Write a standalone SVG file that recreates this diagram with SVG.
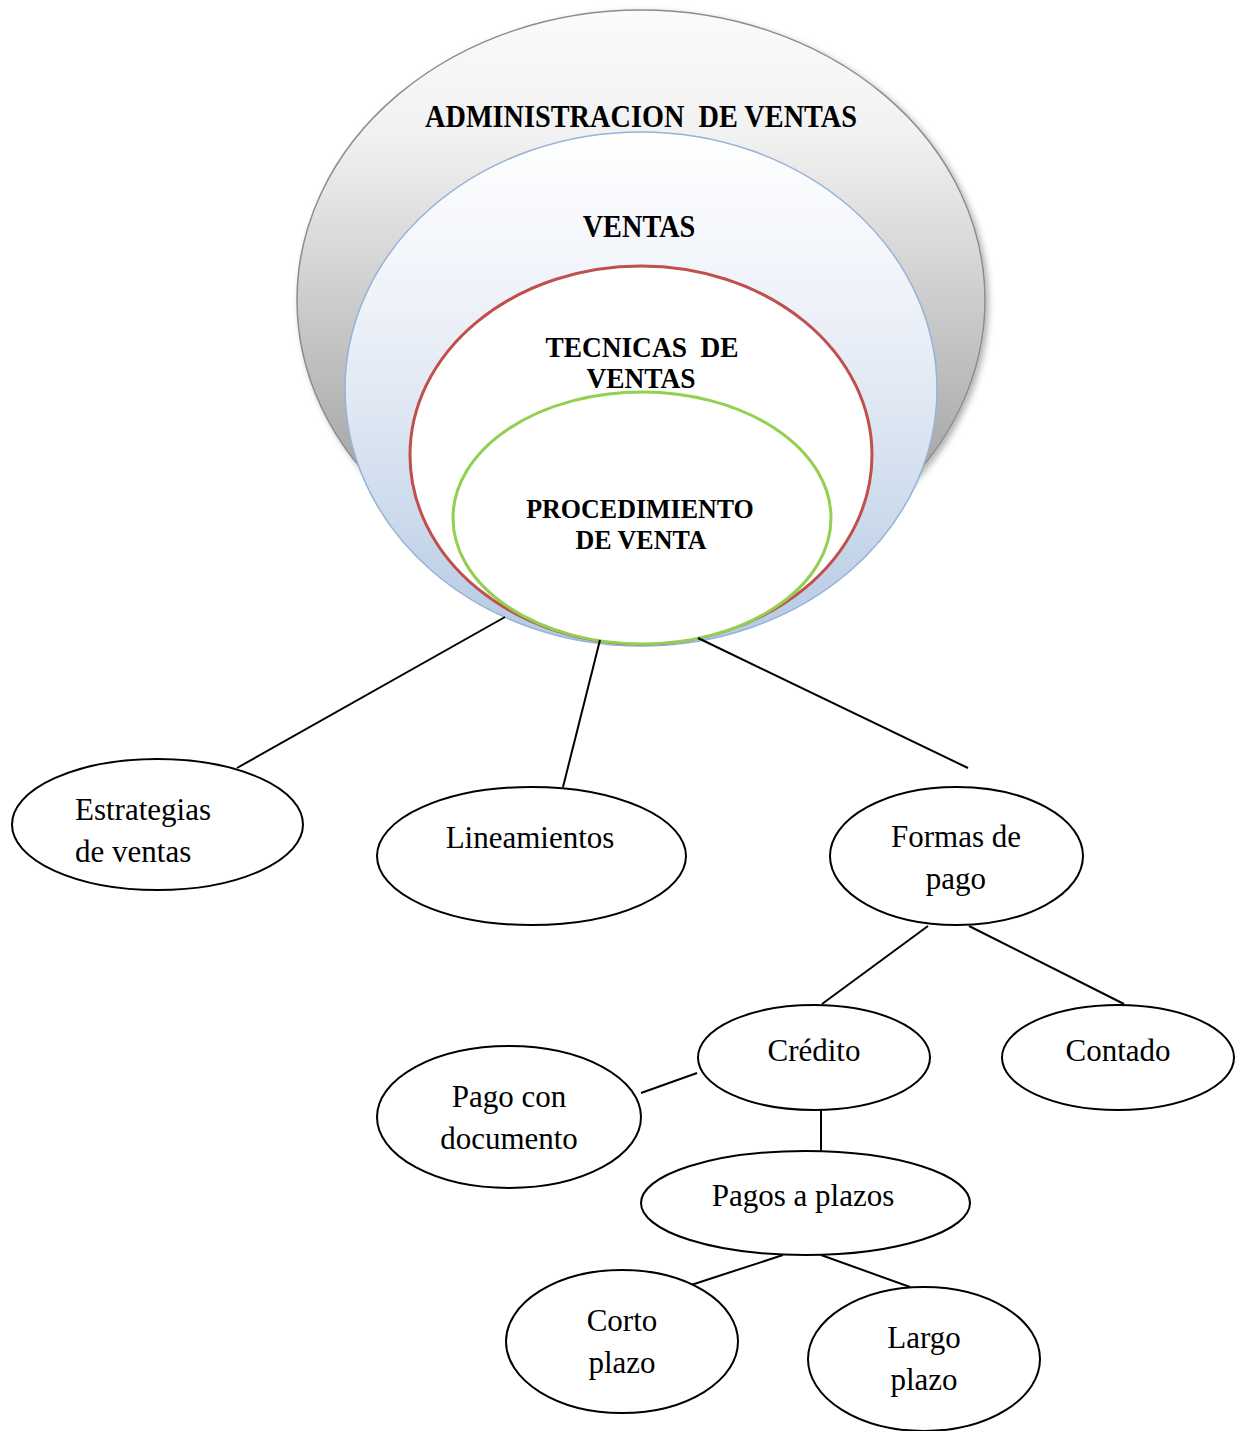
<svg xmlns="http://www.w3.org/2000/svg" width="1236" height="1431" viewBox="0 0 1236 1431">
  <style>
    .title { font-family: "Liberation Serif", "Times New Roman", serif; font-weight: bold; font-size: 28.3px; fill: #000; text-anchor: middle; white-space: pre; }
    .t2 { font-size: 27.4px; }
    .t3 { font-size: 26px; }
    .node ellipse { fill: #fff; stroke: #000; stroke-width: 2; }
    .node text { font-family: "Liberation Serif", "Times New Roman", serif; font-size: 31px; fill: #000; }
    .mid { text-anchor: middle; }
    #connectors line { stroke: #000; stroke-width: 2; }
  </style>
  <defs>
    <linearGradient id="grayFill" x1="0" y1="0" x2="0" y2="1">
      <stop offset="0" stop-color="#fbfbfb"/>
      <stop offset="0.22" stop-color="#f1f1f1"/>
      <stop offset="0.5" stop-color="#cdcdcd"/>
      <stop offset="0.75" stop-color="#adadad"/>
      <stop offset="1" stop-color="#8e8e8e"/>
    </linearGradient>
    <linearGradient id="blueFill" x1="0" y1="0" x2="0" y2="1">
      <stop offset="0" stop-color="#ffffff"/>
      <stop offset="0.33" stop-color="#eef2f9"/>
      <stop offset="0.6" stop-color="#dae4f1"/>
      <stop offset="0.81" stop-color="#c6d6ea"/>
      <stop offset="1" stop-color="#b4c8e2"/>
    </linearGradient>
    <filter id="shade" x="-10%" y="-10%" width="120%" height="120%">
      <feDropShadow dx="3" dy="3" stdDeviation="3" flood-color="#000" flood-opacity="0.3"/>
    </filter>
  </defs>

  <rect width="1236" height="1431" fill="#fff"/>

  <!-- nested sales-management circles -->
  <g id="administracion">
    <ellipse cx="641" cy="300" rx="344" ry="290" fill="url(#grayFill)" stroke="#8c8c8c" stroke-width="1.5" filter="url(#shade)"/>
    <text class="title" xml:space="preserve" transform="translate(641 127) scale(1 1.12)">ADMINISTRACION  DE VENTAS</text>
  </g>
  <g id="ventas">
    <ellipse cx="641" cy="389" rx="296" ry="257" fill="url(#blueFill)" stroke="#95b3d7" stroke-width="1.5"/>
    <text class="title" transform="translate(639 237) scale(1 1.12)">VENTAS</text>
  </g>
  <g id="tecnicas">
    <ellipse cx="641" cy="455" rx="231" ry="189" fill="#fff" stroke="#c0504d" stroke-width="3"/>
    <text class="title t2" xml:space="preserve" transform="translate(642 357) scale(1 1.08)">TECNICAS  DE</text>
    <text class="title t2" transform="translate(641 388) scale(1 1.08)">VENTAS</text>
  </g>
  <g id="procedimiento">
    <ellipse cx="642" cy="518" rx="189" ry="126" fill="#fff" stroke="#92d050" stroke-width="3"/>
    <text class="title t3" transform="translate(640 518) scale(1 1.08)">PROCEDIMIENTO</text>
    <text class="title t3" transform="translate(641 549) scale(1 1.08)">DE VENTA</text>
  </g>

  <!-- connectors -->
  <g id="connectors">
    <line x1="505" y1="617" x2="237" y2="768"/>
    <line x1="600" y1="640" x2="563" y2="787"/>
    <line x1="698" y1="638" x2="968" y2="768"/>
    <line x1="928" y1="926" x2="822" y2="1004"/>
    <line x1="969" y1="926" x2="1124" y2="1004"/>
    <line x1="697" y1="1073" x2="641" y2="1093"/>
    <line x1="821" y1="1110" x2="821" y2="1151"/>
    <line x1="783" y1="1255" x2="688" y2="1286"/>
    <line x1="821" y1="1255" x2="910" y2="1287"/>
  </g>

  <!-- leaf nodes -->
  <g id="estrategias" class="node">
    <ellipse cx="157.5" cy="824.5" rx="145.5" ry="65.5"/>
    <text x="75" y="820">Estrategias</text>
    <text x="75" y="862">de ventas</text>
  </g>
  <g id="lineamientos" class="node">
    <ellipse cx="531.5" cy="856" rx="154.5" ry="69"/>
    <text class="mid" x="530" y="848">Lineamientos</text>
  </g>
  <g id="formas-de-pago" class="node">
    <ellipse cx="956.5" cy="856" rx="126.5" ry="69"/>
    <text class="mid" x="956" y="847">Formas de</text>
    <text class="mid" x="956" y="889">pago</text>
  </g>
  <g id="credito" class="node">
    <ellipse cx="814" cy="1057.5" rx="116" ry="52.5"/>
    <text class="mid" x="814" y="1061">Crédito</text>
  </g>
  <g id="contado" class="node">
    <ellipse cx="1118" cy="1057.5" rx="116" ry="52.5"/>
    <text class="mid" x="1118" y="1061">Contado</text>
  </g>
  <g id="pago-con-documento" class="node">
    <ellipse cx="509" cy="1117" rx="132" ry="71"/>
    <text class="mid" x="509" y="1107">Pago con</text>
    <text class="mid" x="509" y="1149">documento</text>
  </g>
  <g id="pagos-a-plazos" class="node">
    <ellipse cx="805.5" cy="1203" rx="164.5" ry="52"/>
    <text class="mid" x="803" y="1206">Pagos a plazos</text>
  </g>
  <g id="corto-plazo" class="node">
    <ellipse cx="622" cy="1341.5" rx="116" ry="71.5"/>
    <text class="mid" x="622" y="1331">Corto</text>
    <text class="mid" x="622" y="1373">plazo</text>
  </g>
  <g id="largo-plazo" class="node">
    <ellipse cx="924" cy="1359" rx="116" ry="72"/>
    <text class="mid" x="924" y="1348">Largo</text>
    <text class="mid" x="924" y="1390">plazo</text>
  </g>
</svg>
